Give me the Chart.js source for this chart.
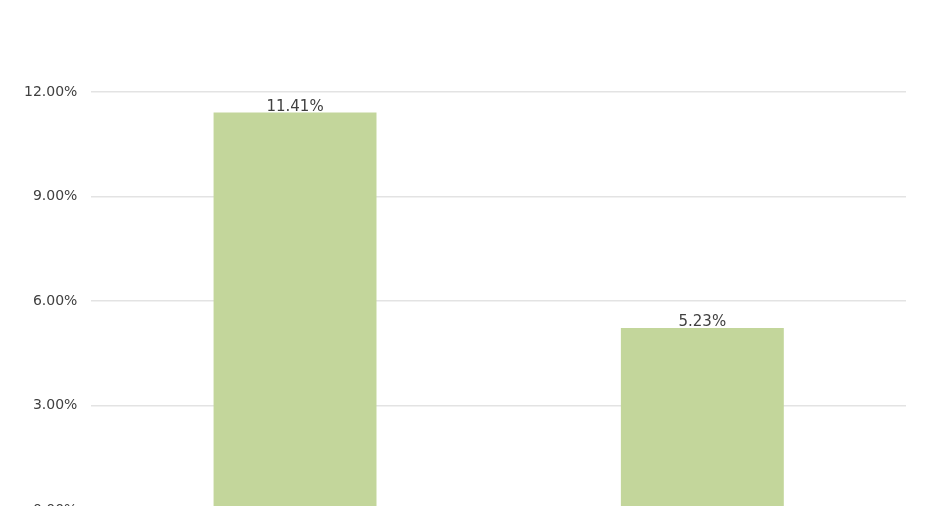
<!doctype html>
<html>
<head>
  <title>Bar Chart</title>
  <script src="https://cdn.jsdelivr.net/npm/chart.js@4/dist/chart.umd.min.js"></script>
  <style>
    html, body { margin: 0; padding: 0; background: #fff; overflow: hidden; }
  </style>
</head>
<body>
  <canvas id="canvas" width="931" height="541"></canvas>
  <script>
  var categories = ['Series 1', 'Series 2'];
  var values = [11.41, 5.23];
  var yTicks = [0, 3, 6, 9, 12];

  // value labels on top of each bar
  var topLabels = {
    id: 'topLabels',
    afterDatasetsDraw: function(chart) {
      var ctx = chart.ctx;
      var meta = chart.getDatasetMeta(0);
      ctx.save();
      ctx.font = '15px "DejaVu Sans", sans-serif';
      ctx.fillStyle = '#404040';
      ctx.textAlign = 'center';
      ctx.textBaseline = 'bottom';
      meta.data.forEach(function(bar, i) {
        ctx.fillText(values[i].toFixed(2) + '%', bar.x, bar.y + 2);
      });
      ctx.restore();
    }
  };

  var ctx = document.getElementById('canvas').getContext('2d');
  new Chart(ctx, {
    type: 'bar',
    data: {
      labels: categories,
      datasets: [{
        data: values,
        backgroundColor: '#C3D69B',
        barPercentage: 0.4,
        categoryPercentage: 1.0
      }]
    },
    options: {
      responsive: false,
      animation: false,
      layout: { padding: { top: 92, right: 25, left: 10, bottom: 0 } },
      plugins: { legend: { display: false }, tooltip: { enabled: false } },
      scales: {
        x: {
          grid: { display: false },
          border: { display: false },
          ticks: { color: '#404040', font: { size: 14, family: '"DejaVu Sans", sans-serif' } }
        },
        y: {
          min: 0,
          max: 12,
          afterBuildTicks: function(axis) {
            axis.ticks = yTicks.map(function(v) { return { value: v }; });
          },
          grid: { color: '#e3e3e3', lineWidth: 1.5, drawTicks: false },
          border: { display: false },
          ticks: {
            padding: 14,
            color: '#404040',
            font: { size: 14, family: '"DejaVu Sans", sans-serif' },
            callback: function(v) { return v.toFixed(2) + '%'; }
          }
        }
      }
    },
    plugins: [topLabels]
  });
  </script>
</body>
</html>
